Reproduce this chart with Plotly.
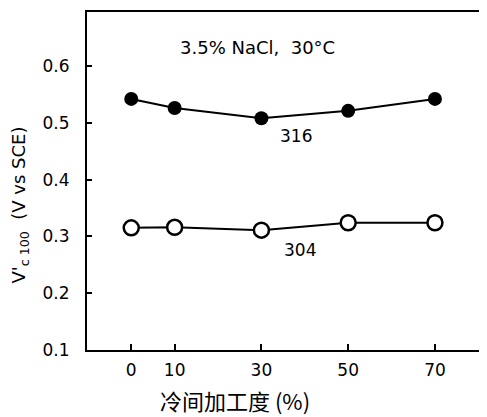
import plotly.graph_objects as go

cold_work = [0, 10, 30, 50, 70]
v316 = [0.542, 0.526, 0.508, 0.521, 0.542]
v304 = [0.315, 0.316, 0.311, 0.324, 0.324]
x_ticks = [0, 10, 30, 50, 70]
y_ticks = [0.1, 0.2, 0.3, 0.4, 0.5, 0.6]

FONT = "DejaVu Sans"
fig = go.Figure()
fig.add_trace(go.Scatter(
    x=cold_work, y=v316, mode="lines+markers",
    line=dict(color="black", width=2),
    marker=dict(symbol="circle", size=14, color="black"),
    showlegend=False))
fig.add_trace(go.Scatter(
    x=cold_work, y=v304, mode="lines+markers",
    line=dict(color="black", width=2),
    marker=dict(symbol="circle", size=15, color="white",
                line=dict(color="black", width=2.5)),
    showlegend=False))

fig.update_layout(
    width=479, height=409,
    margin=dict(l=79, r=0, t=4, b=67, autoexpand=False),
    paper_bgcolor="white", plot_bgcolor="white",
    font=dict(family=FONT, color="black", size=17),
    xaxis=dict(range=[-10.2, 82], tickvals=x_ticks, ticktext=[str(v) for v in x_ticks],
               showline=True, linecolor="black", linewidth=2, mirror=True,
               ticks="inside", ticklen=6, tickwidth=2, tickcolor="black",
               showgrid=False, zeroline=False, tickfont=dict(size=17),
               ticklabelstandoff=4),
    yaxis=dict(range=[0.1, 0.695], tickvals=y_ticks,
               ticktext=["0.1", "0.2", "0.3", "0.4", "0.5", "0.6"],
               showline=True, linecolor="black", linewidth=2,
               ticks="inside", ticklen=5, tickwidth=2, tickcolor="black",
               showgrid=False, zeroline=False, tickfont=dict(size=17),
               ticklabelstandoff=12),
)

fig.add_annotation(x=38, y=0.477, xref="x", yref="y", text="316", showarrow=False,
                   font=dict(size=17))
fig.add_annotation(x=39, y=0.276, xref="x", yref="y", text="304", showarrow=False,
                   font=dict(size=17))
fig.add_annotation(x=29, y=0.632, xref="x", yref="y", text="3.5% NaCl,  30°C",
                   showarrow=False, font=dict(size=18))
fig.add_annotation(x=0.37, y=-0.148, xref="paper", yref="paper", xanchor="center",
                   yanchor="middle",
                   text="冷间加工度 (%)", showarrow=False,
                   font=dict(size=22, family="Noto Sans CJK SC"))
fig.add_annotation(x=-0.168, y=0.43, xref="paper", yref="paper", xanchor="center",
                   yanchor="middle",
                   text="V'<sub>c 100</sub>  (V vs SCE)", textangle=-90, showarrow=False,
                   font=dict(size=18))

fig.write_html("out.html")
